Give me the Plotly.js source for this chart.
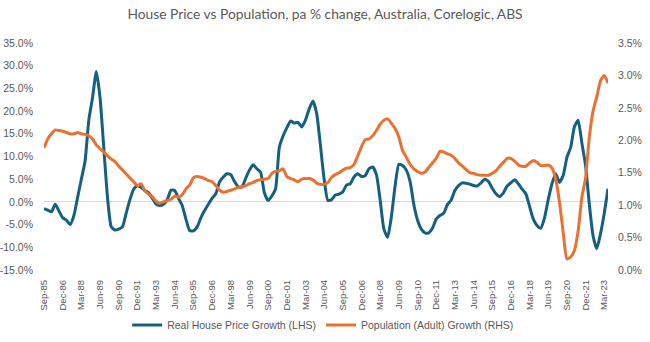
<!DOCTYPE html>
<html>
<head>
<meta charset="utf-8">
<script src="https://cdn.plot.ly/plotly-3.0.1.min.js"></script>
<style>html,body{margin:0;padding:0;background:#fff;}#chart{width:650px;height:342px;}</style>
</head>
<body>
<div id="chart"></div>
<script>
// Quarterly categories Sep-85 .. Jun-23
const quarterNames = ['Mar','Jun','Sep','Dec'];
const firstQuarter = 2, firstYear = 1985, nPoints = 152;
const categories = [];
for (let i = 0; i < nPoints; i++) {
  const k = firstQuarter + i;
  const yy = (firstYear + Math.floor(k / 4)) % 100;
  categories.push(quarterNames[k % 4] + '-' + String(yy).padStart(2, '0'));
}

// Real House Price Growth (LHS), % pa
const houseGrowth = [
  -1.5, -1.8, -2.2, -0.5, -2.0, -3.5, -4.0, -5.0, -3.0, 1.0,
  5.0, 9.0, 18.0, 23.0, 28.7, 23.0, 12.0, 1.0, -5.5, -6.2,
  -6.0, -5.5, -2.5, 0.5, 2.8, 3.6, 3.2, 2.5, 2.0, 0.8,
  -0.5, -0.8, -0.5, 0.5, 2.6, 2.5, 0.8, -0.8, -3.8, -6.3,
  -6.4, -5.5, -3.5, -1.9, -0.5, 0.8, 1.8, 4.4, 5.5, 6.2,
  6.0, 4.5, 3.3, 3.3, 5.2, 7.0, 8.2, 7.3, 6.5, 2.0,
  0.3, 1.3, 2.9, 12.0, 14.5, 16.3, 17.8, 17.4, 17.5, 16.5,
  18.0, 20.5, 22.2, 19.5, 12.5, 5.0, 0.3, 0.5, 1.5, 1.7,
  2.2, 3.7, 4.0, 5.5, 6.2, 5.6, 5.8, 7.3, 7.7, 6.0,
  0.4, -6.0, -7.8, -3.3, 3.5, 8.3, 8.0, 7.0, 4.5, -0.5,
  -4.0, -6.0, -6.8, -6.8, -5.8, -3.8, -3.0, -2.5, -0.6, 0.4,
  2.5, 3.6, 4.2, 4.1, 3.9, 3.6, 3.5, 4.2, 5.0, 4.5,
  3.0, 1.8, 1.2, 2.0, 3.5, 4.2, 4.9, 4.0, 2.8, 1.8,
  -1.0, -3.8, -5.2, -5.8, -3.5, 0.5, 4.0, 6.2, 4.3, 5.8,
  9.8, 12.0, 16.5, 18.0, 13.0, 8.0, -0.5, -7.5, -10.3, -7.0,
  -2.5, 2.9
];

// Population (Adult) Growth (RHS), % pa
const popGrowth = [
  1.88, 2.02, 2.10, 2.16, 2.15, 2.14, 2.12, 2.10, 2.10, 2.12,
  2.10, 2.09, 2.07, 2.02, 1.93, 1.87, 1.82, 1.76, 1.71, 1.67,
  1.60, 1.54, 1.48, 1.42, 1.36, 1.30, 1.33, 1.22, 1.17, 1.13,
  1.06, 1.03, 1.05, 1.07, 1.09, 1.14, 1.12, 1.16, 1.25, 1.31,
  1.42, 1.44, 1.43, 1.41, 1.38, 1.36, 1.30, 1.23, 1.20, 1.21,
  1.23, 1.25, 1.27, 1.28, 1.30, 1.33, 1.35, 1.38, 1.39, 1.40,
  1.41, 1.49, 1.52, 1.53, 1.56, 1.44, 1.41, 1.39, 1.36, 1.40,
  1.41, 1.41, 1.39, 1.34, 1.32, 1.32, 1.35, 1.43, 1.47, 1.50,
  1.54, 1.57, 1.58, 1.63, 1.76, 1.90, 2.01, 2.02, 2.07, 2.15,
  2.25, 2.31, 2.33, 2.26, 2.18, 2.05, 1.84, 1.74, 1.63, 1.56,
  1.52, 1.49, 1.51, 1.58, 1.65, 1.72, 1.83, 1.82, 1.79, 1.77,
  1.72, 1.65, 1.60, 1.55, 1.50, 1.49, 1.47, 1.46, 1.46, 1.46,
  1.49, 1.53, 1.60, 1.66, 1.72, 1.72, 1.68, 1.62, 1.60, 1.60,
  1.65, 1.69, 1.66, 1.61, 1.61, 1.62, 1.57, 1.40, 1.05, 0.58,
  0.17, 0.20, 0.30, 0.60, 1.12, 1.42, 2.05, 2.45, 2.67, 2.92,
  3.00, 2.88
];

const leftTickVals = [-15, -10, -5, 0, 5, 10, 15, 20, 25, 30, 35];
const leftTickText = ['-15.0%', '-10.0%', '-5.0%', '0.0%', '5.0%', '10.0%', '15.0%', '20.0%', '25.0%', '30.0%', '35.0%'];
const rightTickVals = [0, 0.5, 1, 1.5, 2, 2.5, 3, 3.5];
const rightTickText = ['0.0%', '0.5%', '1.0%', '1.5%', '2.0%', '2.5%', '3.0%', '3.5%'];
const xTickVals = categories.filter((c, i) => i % 5 === 0);

const yTickFont = {family: 'Liberation Sans, Arial, sans-serif', size: 10.5, color: '#595959'};
const xTickFont = {family: 'Liberation Sans, Arial, sans-serif', size: 9.5, color: '#595959'};

const traces = [
  {
    x: categories, y: houseGrowth, type: 'scatter', mode: 'lines',
    name: 'Real House Price Growth (LHS)',
    line: {color: '#156082', width: 3, shape: 'spline', smoothing: 0.5},
    yaxis: 'y'
  },
  {
    x: categories, y: popGrowth, type: 'scatter', mode: 'lines',
    name: 'Population (Adult) Growth (RHS)',
    line: {color: '#E97132', width: 3, shape: 'spline', smoothing: 0.5},
    yaxis: 'y2'
  }
];

const layout = {
  width: 650, height: 342,
  margin: {l: 44, r: 42, t: 43, b: 72, autoexpand: false},
  paper_bgcolor: '#ffffff', plot_bgcolor: '#ffffff',
  title: {
    text: 'House Price vs Population, pa % change, Australia, Corelogic, ABS',
    font: {family: 'Lato, sans-serif', size: 13.8, color: '#595959'},
    x: 0.5, xanchor: 'center', y: 0.958, yanchor: 'middle'
  },
  showlegend: true,
  legend: {
    orientation: 'h', x: 0.495, xanchor: 'center', yref: 'container', y: 0.05, yanchor: 'middle',
    font: {family: 'Liberation Sans, Arial, sans-serif', size: 10.5, color: '#595959'},
    itemwidth: 30, bgcolor: 'rgba(0,0,0,0)'
  },
  xaxis: {
    type: 'category', range: [0, nPoints - 1],
    tickmode: 'array', tickvals: xTickVals, ticktext: xTickVals,
    tickangle: -90, tickfont: xTickFont, showgrid: false, showline: false,
    ticks: '', zeroline: false, fixedrange: true, automargin: false, ticklabelstandoff: 7
  },
  yaxis: {
    range: [-15, 35], tickmode: 'array', tickvals: leftTickVals, ticktext: leftTickText,
    tickfont: yTickFont, showgrid: false, zeroline: true, zerolinecolor: '#d9d9d9', zerolinewidth: 1,
    showline: false, ticks: '', automargin: false, ticklabelstandoff: 10
  },
  yaxis2: {
    range: [0, 3.5], overlaying: 'y', side: 'right', tickmode: 'array',
    tickvals: rightTickVals, ticktext: rightTickText,
    tickfont: yTickFont, showgrid: false, zeroline: false, showline: false, ticks: '',
    automargin: false, ticklabelstandoff: 9
  }
};

Plotly.newPlot('chart', traces, layout, {displayModeBar: false, staticPlot: true});
</script>
</body>
</html>
